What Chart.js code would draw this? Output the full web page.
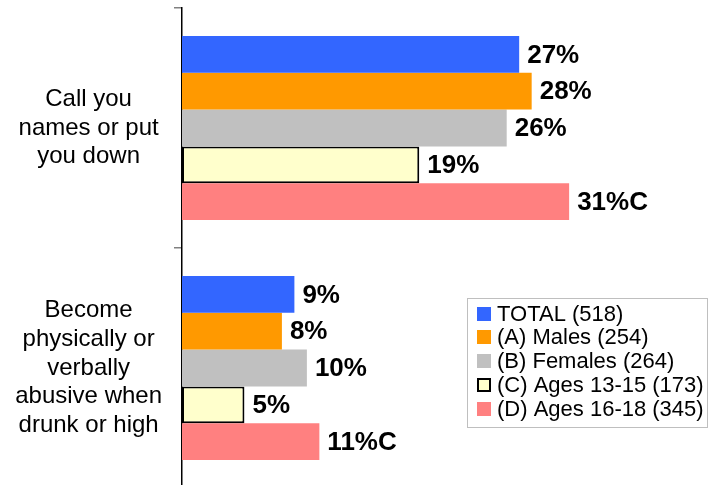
<!DOCTYPE html>
<html>
<head>
<meta charset="utf-8">
<script src="https://cdn.jsdelivr.net/npm/chart.js@4"></script>
<style>
html, body { margin: 0; padding: 0; overflow: hidden; background: #fff; }
</style>
</head>
<body>
<canvas id="chart" width="709" height="490"></canvas>
<script>
// categories / series
var categories = [
    ['Call you', 'names or put', 'you down'],
    ['Become', 'physically or', 'verbally', 'abusive when', 'drunk or high']
];
var seriesNames = ['TOTAL (518)', '(A) Males (254)', '(B) Females (264)', '(C) Ages 13-15 (173)', '(D) Ages 16-18 (345)'];
var total = [27, 9];
var males = [28, 8];
var females = [26, 10];
var ages1315 = [19, 5];
var ages1618 = [31, 11];
// significance letters after the value
var sigTotal = ['', ''];
var sigMales = ['', ''];
var sigFemales = ['', ''];
var sig1315 = ['', ''];
var sig1618 = ['C', 'C'];

var FONT = '"Liberation Sans", Arial, sans-serif';

var valueLabels = {
    id: 'valueLabels',
    afterDatasetsDraw: function(chart) {
        var ctx = chart.ctx;
        ctx.save();
        ctx.font = 'bold 26px ' + FONT;
        ctx.fillStyle = '#000';
        ctx.textAlign = 'left';
        ctx.textBaseline = 'middle';
        chart.data.datasets.forEach(function(ds, i) {
            chart.getDatasetMeta(i).data.forEach(function(bar, j) {
                ctx.fillText(ds.data[j] + '%' + ds.sig[j], bar.x + 8, bar.y + 1);
            });
        });
        ctx.restore();
    }
};

var boxLegend = {
    id: 'boxLegend',
    afterDraw: function(chart) {
        var ctx = chart.ctx;
        ctx.save();
        ctx.strokeStyle = '#bfbfbf';
        ctx.lineWidth = 1;
        ctx.strokeRect(467.5, 298.5, 240, 129);
        ctx.font = '22px ' + FONT;
        ctx.textAlign = 'left';
        ctx.textBaseline = 'middle';
        chart.data.datasets.forEach(function(ds, i) {
            var y = 313.5 + i * 23.9;
            ctx.fillStyle = ds.backgroundColor;
            ctx.fillRect(477, Math.round(y - 7), 14, 14);
            if (ds.borderWidth) {
                ctx.strokeStyle = ds.borderColor;
                ctx.lineWidth = 2;
                ctx.strokeRect(478, Math.round(y - 6), 12, 12);
            }
            ctx.fillStyle = '#000';
            ctx.fillText(ds.label, 497, y + 1);
        });
        ctx.restore();
    }
};

new Chart("chart", {
    type: "bar",
    data: {
        labels: categories,
        datasets: [{
            label: seriesNames[0], data: total, sig: sigTotal,
            backgroundColor: "#3366FF", borderWidth: 0
        }, {
            label: seriesNames[1], data: males, sig: sigMales,
            backgroundColor: "#FF9900", borderWidth: 0
        }, {
            label: seriesNames[2], data: females, sig: sigFemales,
            backgroundColor: "#C0C0C0", borderWidth: 0
        }, {
            label: seriesNames[3], data: ages1315, sig: sig1315,
            backgroundColor: "#FFFFCC", borderColor: "#000", borderWidth: 2, borderSkipped: false
        }, {
            label: seriesNames[4], data: ages1618, sig: sig1618,
            backgroundColor: "#FF8080", borderWidth: 0
        }]
    },
    options: {
        indexAxis: 'y',
        responsive: false,
        animation: false,
        devicePixelRatio: 1,
        layout: { padding: { top: 8, bottom: 2, left: 0, right: 0 } },
        datasets: { bar: { barPercentage: 1, categoryPercentage: 0.767 } },
        plugins: { legend: { display: false }, tooltip: { enabled: false } },
        scales: {
            x: { display: false, min: 0, max: 42.2 },
            y: {
                grid: { drawOnChartArea: false, drawTicks: true, tickLength: 8, color: '#808080', lineWidth: 1.5, offset: true },
                border: { color: '#000', width: 1.5 },
                ticks: { color: '#000', padding: 12, crossAlign: 'center', font: { family: FONT, size: 24, lineHeight: 1.2 } },
                afterFit: function(s) {
                    s.width = 182;
                    s.paddingTop = 0;
                    s.paddingBottom = 0;
                }
            }
        }
    },
    plugins: [valueLabels, boxLegend]
});
</script>
</body>
</html>
